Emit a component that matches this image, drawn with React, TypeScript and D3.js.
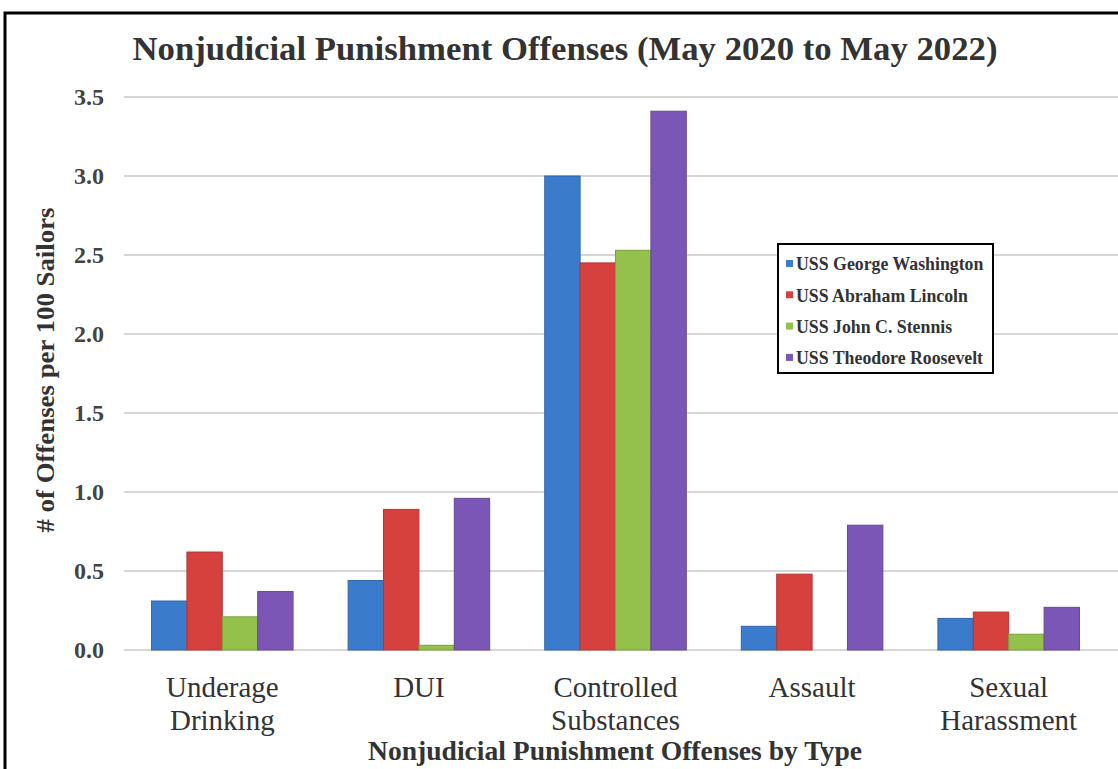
import React from "react";
import * as d3 from "d3";

const categories: string[][] = [
  ["Underage", "Drinking"],
  ["DUI"],
  ["Controlled", "Substances"],
  ["Assault"],
  ["Sexual", "Harassment"],
];
const categoryKeys = ["Underage Drinking", "DUI", "Controlled Substances", "Assault", "Sexual Harassment"];
const seriesNames = ["USS George Washington", "USS Abraham Lincoln", "USS John C. Stennis", "USS Theodore Roosevelt"];
const georgeWashington = [0.31, 0.44, 3.0, 0.15, 0.2];
const abrahamLincoln = [0.62, 0.89, 2.45, 0.48, 0.24];
const johnStennis = [0.21, 0.03, 2.53, 0.0, 0.1];
const theodoreRoosevelt = [0.37, 0.96, 3.41, 0.79, 0.27];
const seriesValues = [georgeWashington, abrahamLincoln, johnStennis, theodoreRoosevelt];
const seriesColors = ["#3b7bcc", "#d6403d", "#94c14b", "#7c56b6"];
const yTicks = [0, 0.5, 1.0, 1.5, 2.0, 2.5, 3.0, 3.5];

const W = 1118;
const H = 769;
const FONT = "'Liberation Serif', 'Times New Roman', serif";

export default function App() {
  const x = d3.scaleBand<string>().domain(categoryKeys).range([124, 1107]).paddingInner(0.28).paddingOuter(0.14);
  const xs = d3.scaleBand<string>().domain(seriesNames).range([0, x.bandwidth()]);
  const y = d3.scaleLinear().domain([0, 3.5]).range([650, 97]);

  return (
    <svg width={W} height={H} style={{ position: "absolute", left: 0, top: 0, background: "#fff" }} fontFamily={FONT}>
      <rect x={0} y={0} width={W} height={H} fill="#fff" />
      <rect x={5} y={13} width={1200} height={800} fill="none" stroke="#000" strokeWidth={3} />
      <text x={565} y={60} textAnchor="middle" fontSize={33} fontWeight="bold" fill="#333" textLength={865} lengthAdjust="spacingAndGlyphs">
        Nonjudicial Punishment Offenses (May 2020 to May 2022)
      </text>
      {yTicks.map((t) => (
        <g key={t}>
          <line x1={124} x2={1118} y1={y(t)} y2={y(t)} stroke="#d6d6d6" strokeWidth={2} />
          <text x={104} y={y(t)} dy="0.35em" textAnchor="end" fontSize={24} fontWeight="bold" fill="#444">
            {d3.format(".1f")(t)}
          </text>
        </g>
      ))}
      {categoryKeys.map((c, ci) => (
        <g key={c} transform={`translate(${x(c)},0)`}>
          {seriesNames.map((s, si) => {
            const v = seriesValues[si][ci];
            const top = y(v);
            return (
              <rect
                key={s}
                x={xs(s)}
                y={top}
                width={xs.bandwidth()}
                height={y(0) - top}
                fill={seriesColors[si]}
                stroke={d3.color(seriesColors[si])!.darker(0.5).toString()}
                strokeWidth={v > 0 ? 1 : 0}
              />
            );
          })}
        </g>
      ))}
      {categoryKeys.map((c, ci) => (
        <text key={c} x={x(c)! + x.bandwidth() / 2} y={697} textAnchor="middle" fontSize={29} fill="#333">
          {categories[ci].map((line, li) => (
            <tspan key={li} x={x(c)! + x.bandwidth() / 2} dy={li === 0 ? 0 : 33}>
              {line}
            </tspan>
          ))}
        </text>
      ))}
      <text x={615} y={760} textAnchor="middle" fontSize={27} fontWeight="bold" fill="#333" textLength={494} lengthAdjust="spacingAndGlyphs">
        Nonjudicial Punishment Offenses by Type
      </text>
      <text transform="translate(54,370) rotate(-90)" textAnchor="middle" fontSize={26} fontWeight="bold" fill="#333" textLength={325} lengthAdjust="spacingAndGlyphs">
        # of Offenses per 100 Sailors
      </text>
      <g>
        <rect x={778} y={244} width={215} height={129} fill="#fff" stroke="#000" strokeWidth={2} />
        {seriesNames.map((s, i) => {
          const cy = 264 + i * 31.3;
          return (
            <g key={s}>
              <rect x={786} y={cy - 4} width={7} height={7} fill={seriesColors[i]} />
              <text x={796} y={cy} dy="0.35em" fontSize={17.8} fontWeight="bold" fill="#333">
                {s}
              </text>
            </g>
          );
        })}
      </g>
    </svg>
  );
}
